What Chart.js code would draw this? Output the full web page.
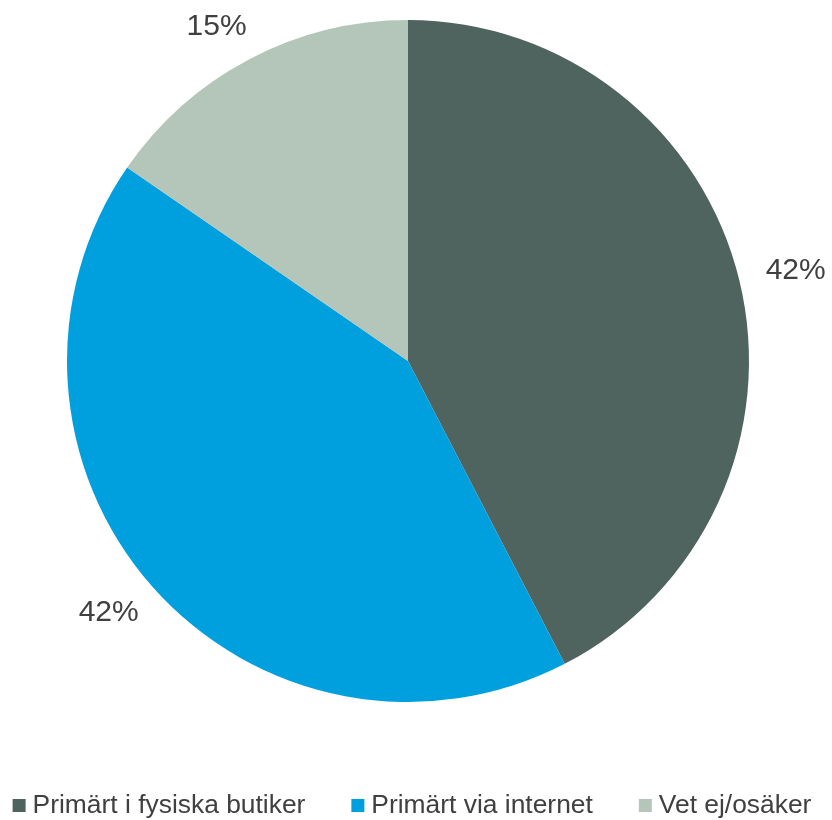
<!DOCTYPE html>
<html>
<head>
<meta charset="utf-8">
<script src="https://cdn.jsdelivr.net/npm/chart.js@4"></script>
<style>
  html, body { margin: 0; padding: 0; background: #ffffff; }
  #wrap { width: 832px; height: 820px; position: relative; }
</style>
</head>
<body>
<div id="wrap"><canvas id="c"></canvas></div>
<script>
const categories = ['Primärt i fysiska butiker', 'Primärt via internet', 'Vet ej/osäker'];
const shares = [42.4, 42.2, 15.4];
const sliceColors = ['#50645F', '#00A0DE', '#B4C5B9'];

const FONT_FAMILY = '"Liberation Sans", Arial, sans-serif';

const outsideLabels = {
  id: 'outsideLabels',
  afterDatasetsDraw(chart) {
    const ctx = chart.ctx;
    const meta = chart.getDatasetMeta(0);
    ctx.save();
    ctx.font = '30px ' + FONT_FAMILY;
    ctx.fillStyle = '#404040';
    ctx.textAlign = 'center';
    ctx.textBaseline = 'middle';
    meta.data.forEach((arc, i) => {
      const p = arc.getProps(['x', 'y', 'startAngle', 'endAngle', 'outerRadius'], true);
      const txt = Math.round(chart.data.datasets[0].data[i]) + '%';
      const w = ctx.measureText(txt).width;
      const h = 24;
      const mid = (p.startAngle + p.endAngle) / 2;
      const ux = Math.cos(mid), uy = Math.sin(mid);
      const r = p.outerRadius + 28;
      let lx = p.x + ux * r + ux * w / 2;
      let ly = p.y + uy * r + uy * h / 2;
      const minY = 27;
      if (ly < minY) {
        const dist = Math.hypot(lx - p.x, ly - p.y);
        ly = minY;
        const dy = ly - p.y;
        const dx = Math.sqrt(Math.max(dist * dist - dy * dy, 0));
        lx = p.x + (ux < 0 ? -dx : dx);
      }
      ctx.fillText(txt, lx, ly);
    });
    ctx.restore();
  }
};

const bottomLegend = {
  id: 'bottomLegend',
  afterDraw(chart) {
    const ctx = chart.ctx;
    const labels = chart.data.labels;
    const colors = chart.data.datasets[0].backgroundColor;
    const fontSize = 26.4;
    const box = 13, textGap = 7, itemGap = 46;
    ctx.save();
    ctx.font = fontSize + 'px ' + FONT_FAMILY;
    const widths = labels.map(t => ctx.measureText(t).width);
    const total = widths.reduce((a, b) => a + b + box + textGap, 0) + itemGap * (labels.length - 1);
    let x = 412 - total / 2;
    const cy = 806;
    ctx.textBaseline = 'middle';
    ctx.textAlign = 'left';
    labels.forEach((t, i) => {
      ctx.fillStyle = colors[i];
      ctx.fillRect(x, cy - 7, box, box);
      ctx.fillStyle = '#404040';
      ctx.fillText(t, x + box + textGap, cy);
      x += box + textGap + widths[i] + itemGap;
    });
    ctx.restore();
  }
};

new Chart(document.getElementById('c'), {
  type: 'pie',
  data: {
    labels: categories,
    datasets: [{
      data: shares,
      backgroundColor: sliceColors,
      borderWidth: 0
    }]
  },
  options: {
    responsive: true,
    maintainAspectRatio: false,
    animation: false,
    layout: { padding: { top: 20, left: 67, right: 83, bottom: 118 } },
    plugins: {
      tooltip: { enabled: false },
      legend: { display: false }
    }
  },
  plugins: [outsideLabels, bottomLegend]
});
</script>
</body>
</html>
